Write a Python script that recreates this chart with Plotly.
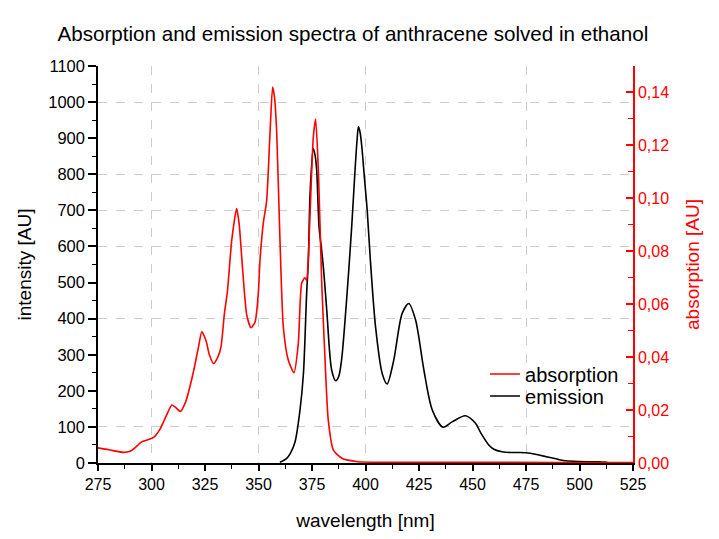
import plotly.graph_objects as go

# ---- data ----
abs_wl = [275, 280, 285, 287, 290, 292, 295, 298, 301, 304, 307, 309.5, 311, 313.5, 316, 318, 320, 322,
          323.5, 325.5, 327, 329, 331, 332.5, 334, 335.5, 337.5, 339.8, 341, 342.5, 344.5, 346.5, 348.4,
          349.9, 350.7, 352.3, 353.8, 355.4, 356.6, 357.5, 358.5, 360, 361.6, 363.9, 366.6, 368.6, 370.2,
          371.7, 372.5, 373.3, 375.6, 376.7, 378, 379.5, 381.1, 382.6, 385, 389, 396.5, 410, 450, 490, 525]
abs_val = [0.0057, 0.0050, 0.0042, 0.0040, 0.0044, 0.0055, 0.0078, 0.0087, 0.0097, 0.0128, 0.0180, 0.0219,
           0.0212, 0.0195, 0.0232, 0.0290, 0.0360, 0.0440, 0.0496, 0.0462, 0.0410, 0.0376, 0.0400, 0.0440,
           0.0560, 0.0650, 0.0842, 0.0961, 0.0900, 0.0740, 0.0560, 0.0511, 0.0533, 0.0640, 0.0766, 0.0910,
           0.0990, 0.1250, 0.1420, 0.1380, 0.1250, 0.0850, 0.0514, 0.0389, 0.0341, 0.0452, 0.0680, 0.0700,
           0.0690, 0.0780, 0.1230, 0.1300, 0.1100, 0.0690, 0.0389, 0.0162, 0.0049, 0.0018, 0.0005, 0.0003,
           0.0003, 0.0002, 0.0002]

em_wl = [360, 363.2, 365, 367.1, 369.4, 371, 372.5, 373.3, 374.1, 375.6, 376.5, 377.2, 378.3, 379.5, 380.5,
         381.9, 384.2, 386.1, 387.5, 388.9, 390.5, 392, 393.5, 395, 396, 396.7, 397.5, 398.3, 399.5, 400.8,
         402.3, 404.7, 407.8, 410.1, 413.2, 417.1, 420.2, 423.4, 427.3, 431.2, 436.2, 440.5, 446.7, 451.4,
         454, 457.6, 460, 463.8, 468, 472, 477, 481, 485.6, 490, 493.5, 500, 509, 513]
em_val = [2, 13, 28, 59, 147, 248, 470, 562, 746, 871, 850, 811, 654, 590, 530,
          423, 257, 228, 240, 290, 400, 520, 650, 800, 890, 932, 915, 875, 790, 700,
          560, 377, 248, 219, 285, 414, 442, 396, 257, 147, 99, 114, 131, 110,
          82, 50, 38, 31, 29, 29, 27, 22, 16, 10, 6, 4, 3, 2]

x_ticks_grid = [300, 350, 400, 475]
y_ticks_grid = [100, 400, 600, 700, 800, 1000]

FONT = "Liberation Sans, Arial, sans-serif"
RED = "#ff0000"

fig = go.Figure()
fig.add_trace(go.Scatter(x=em_wl, y=em_val, mode="lines", name="emission", legend="legend2",
                         line=dict(color="black", width=1.6, shape="spline", smoothing=0.8)))
fig.add_trace(go.Scatter(x=abs_wl, y=abs_val, mode="lines", name="absorption", yaxis="y2", legend="legend",
                         line=dict(color=RED, width=1.6, shape="spline", smoothing=0.6)))
# invisible trace that carries the dashed grid axes
fig.add_trace(go.Scatter(x=[], y=[], xaxis="x2", yaxis="y3", showlegend=False, hoverinfo="skip"))

grid_style = dict(showgrid=True, gridcolor="#cccccc", griddash="dash", gridwidth=1,
                  showticklabels=False, ticks="", showline=False, zeroline=False)

legend_style = dict(xanchor="left", yanchor="middle", bgcolor="rgba(0,0,0,0)",
                    font=dict(family=FONT, size=20, color="black"))

fig.update_layout(
    width=719, height=539,
    margin=dict(l=98, r=86, t=66, b=76),
    paper_bgcolor="white", plot_bgcolor="white",
    separators=",.",
    font=dict(family=FONT, size=16, color="black"),
    title=dict(text="Absorption and emission spectra of anthracene solved in ethanol",
               x=0.08, xanchor="left", xref="container",
               y=1 - 34 / 539, yanchor="middle", yref="container",
               font=dict(family=FONT, size=20.6, color="black")),
    xaxis=dict(range=[275, 525], dtick=25, tick0=275, showgrid=False, zeroline=False,
               showline=True, linecolor="black", linewidth=1.5,
               ticks="outside", ticklen=6, tickwidth=1.5, tickcolor="black",
               minor=dict(dtick=12.5, ticks="outside", ticklen=4, tickcolor="black", tickwidth=1.2),
               title=dict(text="wavelength [nm]", font=dict(size=19), standoff=22),
               tickfont=dict(size=16)),
    yaxis=dict(range=[0, 1100], dtick=100, showgrid=False, zeroline=False,
               showline=True, linecolor="black", linewidth=1.5,
               ticks="outside", ticklen=8, tickwidth=1.5, tickcolor="black",
               minor=dict(dtick=50, ticks="outside", ticklen=4, tickcolor="black", tickwidth=1.2),
               title=dict(text="intensity [AU]", font=dict(size=19), standoff=12),
               tickfont=dict(size=16.5)),
    yaxis2=dict(range=[0, 0.15], dtick=0.02, overlaying="y", side="right", anchor="x",
                showgrid=False, zeroline=False, tickformat=".2f",
                showline=True, linecolor=RED, linewidth=1.5,
                ticks="inside", ticklen=7, tickwidth=1.5, tickcolor=RED,
                minor=dict(dtick=0.01, ticks="inside", ticklen=5, tickcolor=RED, tickwidth=1.2),
                title=dict(text="absorption [AU]", font=dict(size=19, color=RED), standoff=18),
                tickfont=dict(size=16, color=RED)),
    xaxis2=dict(range=[275, 525], overlaying="x", anchor="y", tickvals=x_ticks_grid, layer="below traces",
                **grid_style),
    yaxis3=dict(range=[0, 1100], overlaying="y", anchor="x", tickvals=y_ticks_grid, layer="below traces",
                **grid_style),
    showlegend=True,
    legend=dict(x=0.7234, y=(463 - 374) / 397, **legend_style),
    legend2=dict(x=0.7234, y=(463 - 396) / 397, **legend_style),
)

fig.write_html("out.html")
